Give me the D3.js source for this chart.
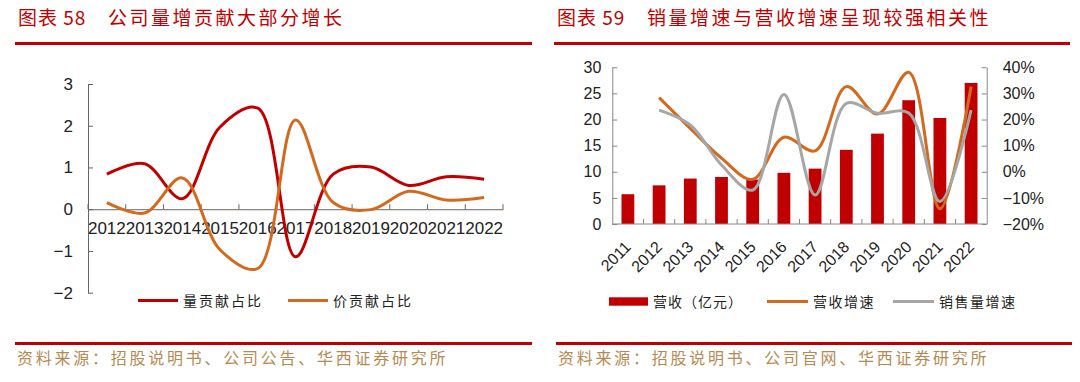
<!DOCTYPE html>
<html>
<head>
<meta charset="utf-8">
<script src="https://cdn.jsdelivr.net/npm/d3@7"></script>
<style>
  body { margin: 0; background: #fff; }
  svg { display: block; }
  text { font-family: "Liberation Sans", Arial, sans-serif; }
  .cjk { font-family: "Noto Sans CJK SC", sans-serif; }
</style>
</head>
<body>
<div id="container"></div>
<script>
// left chart: contribution of volume / price to growth
const yearsL = ["2012","2013","2014","2015","2016","2017","2018","2019","2020","2021","2022"];
const volShare = [0.84, 1.09, 0.25, 1.97, 2.42, -1.14, 0.84, 1.01, 0.57, 0.78, 0.72];
const priceShare = [0.16, -0.09, 0.75, -0.97, -1.42, 2.14, 0.16, -0.01, 0.43, 0.22, 0.28];
const yTicksL = [-2, -1, 0, 1, 2, 3];

// right chart: revenue and growth
const yearsR = ["2011","2012","2013","2014","2015","2016","2017","2018","2019","2020","2021","2022"];
const revenue = [5.7, 7.4, 8.7, 9.0, 8.5, 9.8, 10.6, 14.2, 17.3, 23.7, 20.3, 27.0];
const revGrowth = [null, 0.284, 0.166, 0.052, -0.029, 0.132, 0.080, 0.326, 0.221, 0.381, -0.142, 0.326];
const volGrowth = [null, 0.236, 0.179, 0.026, -0.070, 0.296, -0.089, 0.262, 0.224, 0.225, -0.114, 0.236];
const yTicksR = [0, 5, 10, 15, 20, 25, 30];
const yTicksR2 = [-0.2, -0.1, 0, 0.1, 0.2, 0.3, 0.4];

const RED = "#c00000", ORANGE = "#d2691e", GRAY = "#a6a6a6", TITLE = "#c00000", SRC = "#b48a52";

const svg = d3.select("#container").append("svg")
    .attr("width", 1080)
    .attr("height", 382);

// titles + rules
function header(x0, x1, num, title) {
    svg.append("text").attr("class", "cjk")
        .attr("x", x0 + 3).attr("y", 25)
        .attr("fill", TITLE).style("font-size", "19px").style("letter-spacing", "1px")
        .text("图表 " + num);
    svg.append("text").attr("class", "cjk")
        .attr("x", x0 + 93).attr("y", 25)
        .attr("fill", TITLE).style("font-size", "19px").style("letter-spacing", "2.5px")
        .text(title);
    svg.append("rect").attr("x", x0).attr("y", 42).attr("width", x1 - x0).attr("height", 3).attr("fill", RED);
}
function footer(x0, x1, txt) {
    svg.append("rect").attr("x", x0).attr("y", 342).attr("width", x1 - x0).attr("height", 3).attr("fill", RED);
    svg.append("text").attr("class", "cjk")
        .attr("x", x0 + 2).attr("y", 364)
        .attr("fill", SRC).style("font-size", "16px").style("letter-spacing", "2.75px")
        .text(txt);
}
header(15, 532, "58", "公司量增贡献大部分增长");
header(554, 1070, "59", "销量增速与营收增速呈现较强相关性");
footer(15, 532, "资料来源：招股说明书、公司公告、华西证券研究所");
footer(556, 1072, "资料来源：招股说明书、公司官网、华西证券研究所");

// ---------------- left chart ----------------
const xL = d3.scaleBand().domain(yearsL).range([88, 503]);
const yL = d3.scaleLinear().domain([-2, 3]).range([292.7, 84]);
const gL = svg.append("g");

gL.append("g")
    .attr("transform", "translate(88,0)")
    .call(d3.axisLeft(yL).tickValues(yTicksL).tickFormat(d3.format("d")).tickSize(-5).tickPadding(15).tickSizeOuter(0))
    .call(g => g.selectAll("line,path").attr("stroke", "#666"))
    .call(g => g.selectAll("text").style("font-size", "17px").attr("fill", "#222"));

const x0L = yL(0);
gL.append("g")
    .attr("transform", `translate(0,${x0L})`)
    .call(d3.axisBottom(xL).tickSize(0).tickPadding(13))
    .call(g => g.select("path").attr("stroke", "#666"))
    .call(g => g.selectAll("text").style("font-size", "17px").attr("fill", "#222"));
gL.selectAll(".btick")
    .data(yearsL.map(d => xL(d) + xL.step()).concat([xL(yearsL[0])]))
    .enter().append("line")
    .attr("x1", d => d).attr("x2", d => d)
    .attr("y1", x0L).attr("y2", x0L - 5)
    .attr("stroke", "#666");

const lineL = d3.line()
    .x((d, i) => xL(yearsL[i]) + xL.bandwidth() / 2)
    .y(d => yL(d))
    .curve(d3.curveCatmullRom.alpha(0.5));
gL.append("path").datum(volShare)
    .attr("fill", "none").attr("stroke", RED).attr("stroke-width", 3).attr("d", lineL);
gL.append("path").datum(priceShare)
    .attr("fill", "none").attr("stroke", ORANGE).attr("stroke-width", 3).attr("d", lineL);

const legL = [{ name: "量贡献占比", color: RED, x: 138 }, { name: "价贡献占比", color: ORANGE, x: 288 }];
legL.forEach(l => {
    gL.append("line").attr("x1", l.x).attr("x2", l.x + 40).attr("y1", 300.5).attr("y2", 300.5)
        .attr("stroke", l.color).attr("stroke-width", 3);
    gL.append("text").attr("class", "cjk").attr("x", l.x + 45).attr("y", 306)
        .style("font-size", "14px").style("letter-spacing", "2px").attr("fill", "#222").text(l.name);
});

// ---------------- right chart ----------------
const xR = d3.scaleBand().domain(yearsR).range([612.3, 986.7]);
const yR = d3.scaleLinear().domain([0, 30]).range([224, 67.3]);
const yR2 = d3.scaleLinear().domain([-0.2, 0.4]).range([224, 67.3]);
const gR = svg.append("g");

const barW = xR.bandwidth() * 0.41;
gR.selectAll(".bar")
    .data(revenue)
    .enter().append("rect")
    .attr("x", (d, i) => xR(yearsR[i]) + (xR.bandwidth() - barW) / 2)
    .attr("y", d => yR(d))
    .attr("width", barW)
    .attr("height", d => yR(0) - yR(d))
    .attr("fill", RED);

gR.append("g")
    .attr("transform", "translate(612.3,0)")
    .call(d3.axisLeft(yR).tickValues(yTicksR).tickSize(-5).tickPadding(11).tickSizeOuter(0))
    .call(g => g.selectAll("line,path").attr("stroke", "#888"))
    .call(g => g.selectAll("text").style("font-size", "16px").attr("fill", "#222"));
gR.append("g")
    .attr("transform", "translate(986.7,0)")
    .call(d3.axisRight(yR2).tickValues(yTicksR2).tickFormat(d3.format(".0%")).tickSize(-5).tickPadding(16).tickSizeOuter(0))
    .call(g => g.selectAll("line,path").attr("stroke", "#888"))
    .call(g => g.selectAll("text").style("font-size", "16px").attr("fill", "#222"));

gR.append("line").attr("x1", 612.3).attr("x2", 986.7).attr("y1", 224).attr("y2", 224).attr("stroke", "#888");
gR.selectAll(".btick")
    .data(yearsR.slice(1).map(d => xR(d)))
    .enter().append("line")
    .attr("x1", d => d).attr("x2", d => d)
    .attr("y1", 224).attr("y2", 219)
    .attr("stroke", "#888");
gR.selectAll(".xlab")
    .data(yearsR)
    .enter().append("text")
    .attr("text-anchor", "end")
    .attr("transform", d => `translate(${xR(d) + xR.bandwidth() / 2 + 4},${248}) rotate(-45)`)
    .style("font-size", "16px").attr("fill", "#222")
    .text(d => d);

const lineR = d3.line()
    .defined(d => d != null)
    .x((d, i) => xR(yearsR[i]) + xR.bandwidth() / 2)
    .y(d => yR2(d))
    .curve(d3.curveCatmullRom.alpha(0.5));
gR.append("path").datum(revGrowth)
    .attr("fill", "none").attr("stroke", ORANGE).attr("stroke-width", 3).attr("d", lineR);
gR.append("path").datum(volGrowth)
    .attr("fill", "none").attr("stroke", GRAY).attr("stroke-width", 3).attr("d", lineR);

gR.append("rect").attr("x", 609).attr("y", 297.3).attr("width", 39).attr("height", 8.4).attr("fill", RED);
gR.append("text").attr("class", "cjk").attr("x", 653).attr("y", 306.5)
    .style("font-size", "14px").style("letter-spacing", "1px").attr("fill", "#222").text("营收（亿元）");
const legR = [{ name: "营收增速", color: ORANGE, x: 767 }, { name: "销售量增速", color: GRAY, x: 893 }];
legR.forEach(l => {
    gR.append("line").attr("x1", l.x).attr("x2", l.x + 41).attr("y1", 301.5).attr("y2", 301.5)
        .attr("stroke", l.color).attr("stroke-width", 3);
    gR.append("text").attr("class", "cjk").attr("x", l.x + 46).attr("y", 306.5)
        .style("font-size", "14px").style("letter-spacing", "1.5px").attr("fill", "#222").text(l.name);
});
</script>
</body>
</html>
